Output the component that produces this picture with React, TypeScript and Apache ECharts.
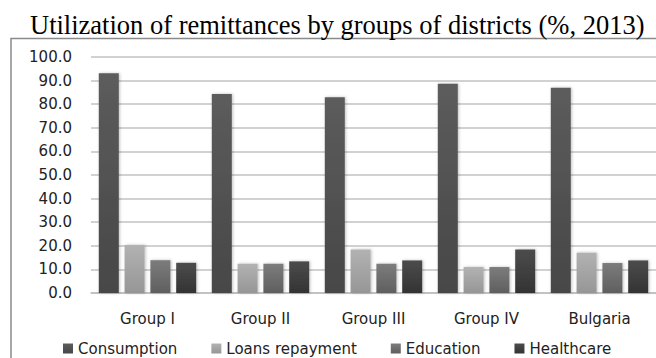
import React, { useEffect, useRef } from "react";
import * as echarts from "echarts";

const categories = ["Group I", "Group II", "Group III", "Group IV", "Bulgaria"];
const seriesNames = ["Consumption", "Loans repayment", "Education", "Healthcare"];
const consumption = [93.1, 84.3, 82.9, 88.7, 87.0];
const loansRepayment = [20.3, 12.4, 18.4, 11.0, 17.1];
const education = [13.9, 12.4, 12.4, 11.0, 12.7];
const healthcare = [12.8, 13.4, 13.8, 18.4, 13.8];
const yTicks = [0, 10, 20, 30, 40, 50, 60, 70, 80, 90, 100];

const seriesValues = [consumption, loansRepayment, education, healthcare];
const seriesColors: [string, string][] = [
  ["#5c5c5c", "#474747"],
  ["#b2b2b2", "#969696"],
  ["#7c7c7c", "#5f5f5f"],
  ["#4c4c4c", "#333333"],
];

const labelFont = "'DejaVu Sans', 'Noto Sans', sans-serif";

export default function App() {
  const ref = useRef<HTMLDivElement>(null);

  useEffect(() => {
    if (!ref.current) return;
    const chart = echarts.init(ref.current, undefined, { renderer: "svg" });
    chart.setOption({
      animation: false,
      backgroundColor: "#ffffff",
      title: {
        text: "Utilization of remittances by groups of districts (%, 2013)",
        left: 25,
        top: 6,
        textStyle: {
          fontFamily: "'Liberation Serif', 'Times New Roman', serif",
          fontSize: 26.5,
          fontWeight: "normal",
          color: "#000",
        },
      },
      graphic: [
        {
          type: "rect",
          shape: { x: 11, y: 38.5, width: 660, height: 340 },
          style: { fill: "none", stroke: "#8a8a8a", lineWidth: 1.5 },
          silent: true,
        },
      ],
      legend: {
        data: seriesNames,
        top: 336,
        left: 58,
        icon: "rect",
        itemWidth: 10,
        itemHeight: 10,
        itemGap: 34,
        textStyle: { fontFamily: labelFont, fontSize: 15, color: "#222" },
      },
      grid: { left: 91, top: 57, width: 569, height: 236, containLabel: false },
      xAxis: {
        type: "category",
        data: categories,
        axisTick: { show: false },
        axisLine: { lineStyle: { color: "#bdbdbd", width: 1.5 } },
        axisLabel: { margin: 18, fontFamily: labelFont, fontSize: 15, color: "#222" },
      },
      yAxis: {
        type: "value",
        min: yTicks[0],
        max: yTicks[yTicks.length - 1],
        interval: 10,
        axisLine: { show: false },
        axisTick: { show: false },
        splitLine: { lineStyle: { color: "#c2c2c2", width: 1.5 } },
        axisLabel: {
          margin: 19,
          fontFamily: labelFont,
          fontSize: 15,
          color: "#222",
          formatter: (v: number) => v.toFixed(1),
        },
      },
      series: seriesNames.map((name, i) => ({
        name,
        type: "bar",
        data: seriesValues[i],
        barWidth: 20,
        barGap: "29%",
        itemStyle: {
          color: new echarts.graphic.LinearGradient(0, 0, 0, 1, [
            { offset: 0, color: seriesColors[i][0] },
            { offset: 1, color: seriesColors[i][1] },
          ]),
          shadowColor: "rgba(0,0,0,0.25)",
          shadowBlur: 3,
          shadowOffsetX: 1,
        },
      })),
    });
    return () => chart.dispose();
  }, []);

  return (
    <div
      ref={ref}
      style={{ position: "fixed", left: 0, top: 0, width: 656, height: 358 }}
    />
  );
}
